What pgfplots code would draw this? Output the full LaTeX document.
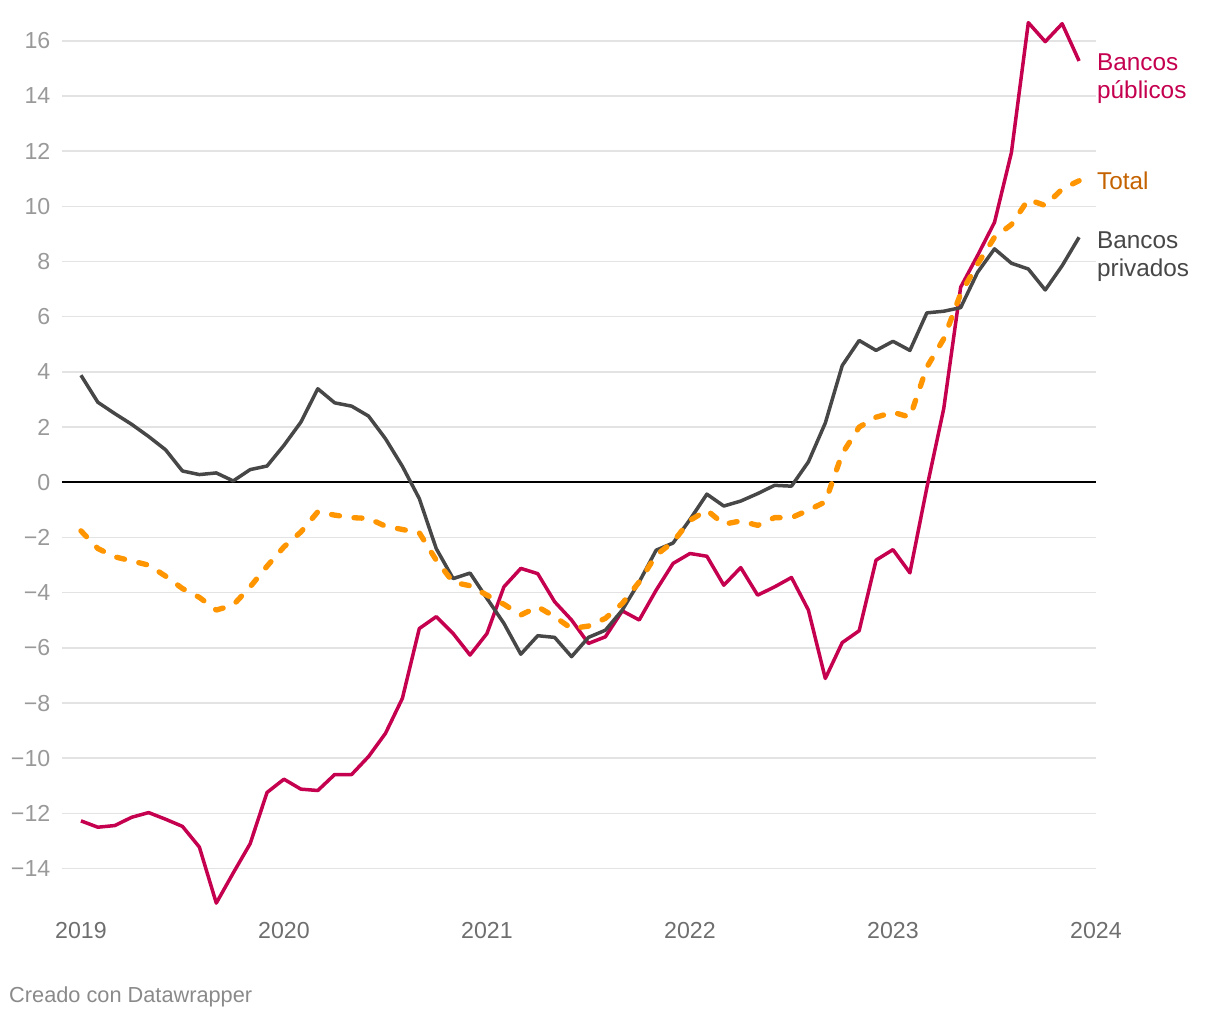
\documentclass[border=0pt]{standalone}
\usepackage{pgfplots}
\pgfplotsset{compat=1.18}
\usepackage{pgfplotstable}
\usepackage{fontspec}
\setmainfont{Liberation Sans}
\definecolor{pubc}{HTML}{C4004F}
\definecolor{privc}{HTML}{474747}
\definecolor{totc}{HTML}{FF9500}
\definecolor{totl}{HTML}{C46200}
\definecolor{gridc}{HTML}{E3E3E3}
\definecolor{ytc}{HTML}{999999}
\definecolor{xtc}{HTML}{6E6E6E}

\pgfplotstableread{
m pub priv tot
0 -12.27 3.88 -1.76
1 -12.50 2.90 -2.40
2 -12.44 2.49 -2.70
3 -12.14 2.10 -2.85
4 -11.97 1.66 -3.00
5 -12.21 1.18 -3.40
6 -12.47 0.41 -3.85
7 -13.22 0.28 -4.17
8 -15.25 0.34 -4.63
9 -14.16 0.05 -4.45
10 -13.10 0.46 -3.79
11 -11.24 0.59 -3.04
12 -10.76 1.34 -2.34
13 -11.12 2.18 -1.80
14 -11.17 3.39 -1.07
15 -10.59 2.88 -1.19
16 -10.59 2.76 -1.28
17 -9.94 2.40 -1.31
18 -9.10 1.58 -1.59
19 -7.83 0.58 -1.71
20 -5.30 -0.59 -1.83
21 -4.87 -2.40 -2.82
22 -5.48 -3.49 -3.62
23 -6.26 -3.29 -3.75
24 -5.48 -4.21 -4.09
25 -3.79 -5.11 -4.42
26 -3.12 -6.23 -4.81
27 -3.31 -5.56 -4.51
28 -4.33 -5.62 -4.87
29 -4.99 -6.32 -5.30
30 -5.84 -5.62 -5.21
31 -5.60 -5.36 -4.93
32 -4.66 -4.63 -4.39
33 -4.99 -3.61 -3.61
34 -3.91 -2.46 -2.64
35 -2.94 -2.20 -2.16
36 -2.58 -1.35 -1.38
37 -2.68 -0.43 -1.01
38 -3.73 -0.86 -1.52
39 -3.09 -0.68 -1.40
40 -4.09 -0.41 -1.56
41 -3.79 -0.11 -1.28
42 -3.45 -0.14 -1.28
43 -4.63 0.74 -1.01
44 -7.11 2.15 -0.71
45 -5.81 4.23 1.04
46 -5.38 5.14 2.00
47 -2.82 4.78 2.36
48 -2.44 5.11 2.54
49 -3.28 4.78 2.36
50 -0.20 6.14 4.17
51 2.67 6.20 5.20
52 7.07 6.33 6.83
53 8.22 7.61 7.91
54 9.42 8.46 8.88
55 11.95 7.94 9.34
56 16.66 7.73 10.25
57 15.97 6.97 10.03
58 16.62 7.85 10.63
59 15.27 8.88 10.93
}\datatable

\begin{document}
\begin{tikzpicture}[x=1pt,y=1pt]
\useasboundingbox (-37.2pt,-66pt) rectangle (694.8pt,546pt);
\begin{axis}[
  at={(0,0)}, anchor=south west,
  scale only axis,
  width=620.4pt, height=546pt,
  xmin=-1.12, xmax=60,
  ymin=-15.5, ymax=17.48,
  axis line style={draw=none},
  clip=false,
  ymajorgrids,
  grid style={gridc, line width=0.9pt},
  ytick={-14,-12,...,16},
  yticklabels={−14,−12,−10,−8,−6,−4,−2,0,2,4,6,8,10,12,14,16},
  xtick={0,12,24,36,48,60},
  xticklabels={2019,2020,2021,2022,2023,2024},
  major tick length=0pt,
  tick style={draw=none},
  tick label style={font=\fontsize{13.9}{16}\selectfont},
  yticklabel style={text=ytc, anchor=east, xshift=-3.5pt},
  xticklabel style={text=xtc, anchor=north, yshift=-4pt},
  /pgf/number format/assume math mode=true,
]
\addplot[black, line width=1pt] coordinates {(-1.12,0) (60,0)};
\addplot[pubc, line width=2.1pt, line join=round] table[x=m, y=pub] {\datatable};
\addplot[privc, line width=2.1pt, line join=round] table[x=m, y=priv] {\datatable};
\addplot[totc, line width=3.2pt, line cap=round, line join=round, dash pattern=on 4.8pt off 8.8pt] table[x=m, y=tot] {\datatable};

\node[anchor=west, inner sep=0pt, align=left, text=pubc, font=\fontsize{14.6}{16.8}\selectfont] at (axis cs:60.05,14.62) {Bancos\\públicos};
\node[anchor=west, inner sep=0pt, align=left, text=totl, font=\fontsize{14.6}{16.8}\selectfont] at (axis cs:60.05,10.93) {Total};
\node[anchor=west, inner sep=0pt, align=left, text=privc, font=\fontsize{14.6}{16.8}\selectfont] at (axis cs:60.05,8.18) {Bancos\\privados};
\node[anchor=west, inner sep=0pt, text=ytc!90!black, font=\fontsize{13.05}{16}\selectfont] at (axis cs:-4.26,-18.64) {Creado con Datawrapper};
\end{axis}
\end{tikzpicture}
\end{document}
